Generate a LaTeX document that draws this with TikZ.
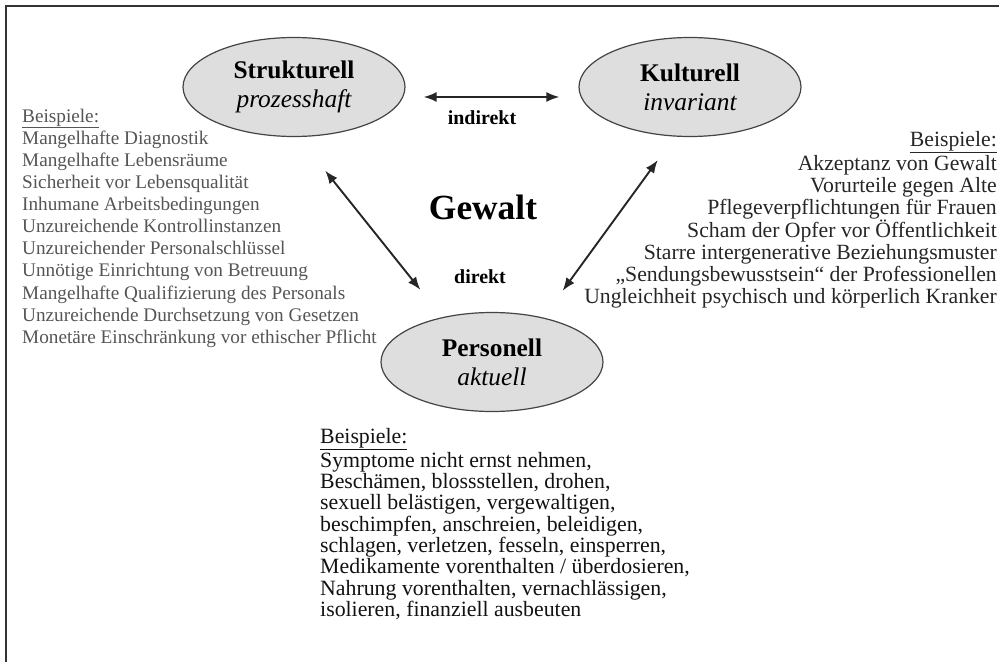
\documentclass[tikz,border=0pt]{standalone}
\usepackage{fontspec}
\setmainfont{Liberation Serif}
\usetikzlibrary{shapes.geometric,arrows.meta}

\definecolor{ellfill}{HTML}{DEDEDE}
\definecolor{ellline}{HTML}{444444}
\definecolor{listgrey}{HTML}{555555}
\definecolor{listdark}{HTML}{262626}
\definecolor{listblack}{HTML}{121212}

\begin{document}
\begin{tikzpicture}[x=1bp,y=1bp,
  typ/.style={ellipse,draw=ellline,line width=1.2bp,fill=ellfill,minimum width=222bp,minimum height=99bp,inner sep=0pt,align=center,font=\fontsize{25.5}{29}\selectfont},
  rel/.style={{Latex[length=13bp,width=10bp]}-{Latex[length=13bp,width=10bp]},line width=1.9bp,draw=black!85},
  lbl/.style={inner sep=0pt,font=\bfseries\fontsize{20}{24}\selectfont},
  beisp/.style={inner sep=0pt}]
\useasboundingbox (0,0) rectangle (999,-662);
\draw [black!80,line width=1.5bp] (6,-662) -- (6,-6) -- (999,-6);
\node [typ] (struk) at (294,-87) {{\bfseries Strukturell}\\{\itshape prozesshaft}};
\node [typ] (kult) at (690,-87) {{\bfseries Kulturell}\\{\itshape invariant}};
\node [typ] (pers) at (492,-362) {{\bfseries Personell}\\{\itshape aktuell}};
\node [inner sep=0pt,font=\bfseries\fontsize{35.5}{40}\selectfont] (gewalt) at (483,-207) {Gewalt};
\node [lbl] (indir) at (482,-118) {indirekt};
\node [lbl] (dir) at (480,-277) {direkt};
\draw [rel,shorten <=18bp,shorten >=19bp] ([yshift=-10bp]struk.east) -- ([yshift=-10bp]kult.west);
\draw [rel,shorten <=43bp,shorten >=35bp] (struk.-85) -- (pers.138);
\draw [rel,shorten <=29bp,shorten >=33bp] (kult.-107) -- (pers.41);
\node [beisp,anchor=north west,align=left,text=listgrey,font=\fontsize{19.3}{22.2}\selectfont] (bspstruk) at (22,-108.6) {\underline{Beispiele:}\\
Mangelhafte Diagnostik\\
Mangelhafte Lebensräume\\
Sicherheit vor Lebensqualität\\
Inhumane Arbeitsbedingungen\\
Unzureichende Kontrollinstanzen\\
Unzureichender Personalschlüssel\\
Unnötige Einrichtung von Betreuung\\
Mangelhafte Qualifizierung des Personals\\
Unzureichende Durchsetzung von Gesetzen\\
Monetäre Einschränkung vor ethischer Pflicht};
\node [beisp,anchor=north east,align=right,text=listdark,font=\fontsize{21.8}{22}\selectfont] (bspkult) at (997,-131) {\underline{Beispiele:}\\[2bp]
Akzeptanz von Gewalt\\
Vorurteile gegen Alte\\
Pflegeverpflichtungen für Frauen\\
Scham der Opfer vor Öffentlichkeit\\
Starre intergenerative Beziehungsmuster\\
„Sendungsbewusstsein“ der Professionellen\\
Ungleichheit psychisch und körperlich Kranker};
\node [beisp,anchor=north west,align=left,text=listblack,font=\fontsize{21.9}{21.4}\selectfont] (bsppers) at (320,-428) {\underline{Beispiele:}\\[1bp]
Symptome nicht ernst nehmen,\\
Beschämen, blossstellen, drohen,\\
sexuell belästigen, vergewaltigen,\\
beschimpfen, anschreien, beleidigen,\\
schlagen, verletzen, fesseln, einsperren,\\
Medikamente vorenthalten / überdosieren,\\
Nahrung vorenthalten, vernachlässigen,\\
isolieren, finanziell ausbeuten};
\end{tikzpicture}
\end{document}
